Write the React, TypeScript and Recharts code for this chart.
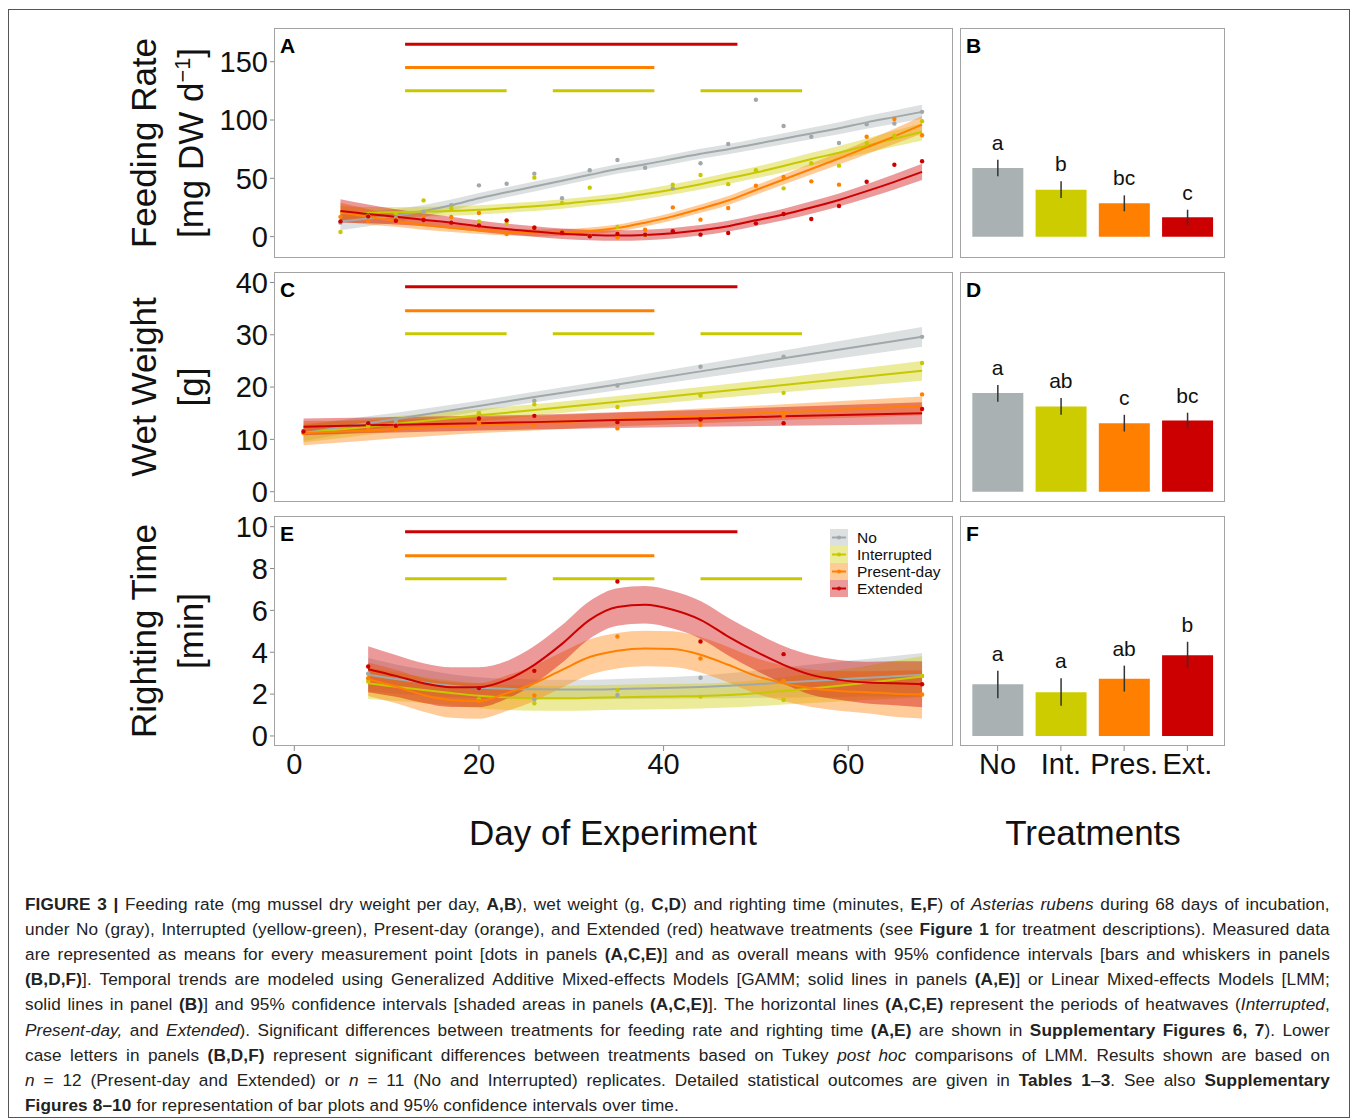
import React from 'react';
import {
  ComposedChart, Line, Area, Scatter, Bar, Cell, ErrorBar, LabelList,
  XAxis, YAxis, ReferenceLine,
} from 'recharts';

const FONT = '"Liberation Sans", Arial, Helvetica, sans-serif';

const treatments = ['No', 'Interrupted', 'Present-day', 'Extended'];
const treatmentShort = ['No', 'Int.', 'Pres.', 'Ext.'];
const keys = ['no', 'int', 'pres', 'ext'];
const lineColors = ['#a0a8aa', '#c8c800', '#ff8000', '#cc0000'];
const bandColors = ['#a9b1b3', '#cccc00', '#ff8000', '#cc0000'];
const barColors = ['#aab1b3', '#cccc00', '#ff8000', '#cc0000'];

// heatwave periods in days (Extended, Present-day, Interrupted)
const heatExtended = [[12, 48]];
const heatPresent = [[12, 39]];
const heatInterrupted = [[12, 23], [28, 39], [44, 55]];

const dayTicks = [0, 20, 40, 60];
const dayDomain = [-2.2, 71.35];

// ---- A: feeding rate ----
const feedDays = [5, 8, 11, 14, 17, 20, 23, 26, 29, 32, 35, 38, 41, 44, 47, 50, 53, 56, 59, 62, 65, 68];
const feedNoFit = [13, 15.5, 18, 22, 27, 33, 38, 43, 48, 53, 58, 62, 66.5, 71, 75, 79.5, 84, 88.5, 93, 98, 102.5, 107];
const feedNoLo = [5.5, 9, 12.2, 16.8, 22.2, 28.5, 33.7, 38.8, 43.9, 48.9, 53.9, 57.9, 62.3, 66.7, 70.6, 75, 79.3, 83.6, 87.9, 92.6, 96.8, 101];
const feedNoHi = [20.5, 22, 23.8, 27.2, 31.8, 37.5, 42.3, 47.2, 52.1, 57.1, 62.1, 66.1, 70.7, 75.3, 79.4, 84, 88.7, 93.4, 98.1, 103.4, 108.2, 113];
const feedIntFit = [20.3, 20.5, 21, 21.5, 22, 23, 24.5, 26, 28, 30.5, 33, 36.5, 40.5, 45, 50, 55, 60.5, 66.5, 72, 78, 84, 90];
const feedIntLo = [14.3, 15.5, 16.5, 17.3, 18, 19, 20.5, 22, 24, 26.5, 29, 32.3, 36.1, 40.4, 45.2, 50, 55.3, 61, 66.2, 71.8, 77.2, 82.5];
const feedIntHi = [26.3, 25.5, 25.5, 25.7, 26, 27, 28.5, 30, 32, 34.5, 37, 40.7, 44.9, 49.6, 54.8, 60, 65.7, 72, 77.8, 84.2, 90.8, 97.5];
const feedPresFit = [21, 17, 13.5, 10, 7.5, 5.5, 4, 3.2, 3.5, 4.8, 7.4, 12, 17.4, 24, 31, 40, 49, 58, 67, 76.5, 86, 96];
const feedPresLo = [13, 10.5, 8.5, 6, 4, 2.3, 1, 0.2, 0.5, 1.8, 4.4, 8.8, 14, 20.4, 27.2, 36, 44.7, 53.3, 61.8, 70.7, 79.4, 88.5];
const feedPresHi = [29, 23.5, 18.5, 14, 11, 8.7, 7, 6.2, 6.5, 7.8, 10.4, 15.2, 20.8, 27.6, 34.8, 44, 53.3, 62.7, 72.2, 82.3, 92.6, 103.5];
const feedExtFit = [22, 19.5, 17, 14.5, 12, 9, 6.5, 4.5, 2.5, 1.5, 1, 1.5, 3, 5.5, 9, 14, 19, 25, 31.5, 39, 47, 55.5];
const feedExtLo = [12, 11.5, 10.5, 9, 7, 4.2, 1.9, 0, -2, -3, -3.5, -3, -1.5, 1, 4.4, 9.2, 14, 19.7, 25.9, 33, 40.5, 48.5];
const feedExtHi = [32, 27.5, 23.5, 20, 17, 13.8, 11.1, 9, 7, 6, 5.5, 6, 7.5, 10, 13.6, 18.8, 24, 30.3, 37.1, 45, 53.5, 62.5];
const feedNoDots = [12, 17, 16, 21.4, 27, 44, 45.4, 54, 32.9, 56.9, 65.7, 59.1, 41.4, 62.9, 79.4, 117.4, 94.9, 85.7, 80.3, 96.3, 97, 107];
const feedIntDots = [4, 18, 20, 31.1, 24.3, 13.1, 11.7, 50.6, 28.9, 42, 8.3, 1, 44.6, 52.9, 45, 56.9, 41.4, 62.9, 60.9, 80.3, 86.6, 98.9];
const feedPresDots = [17, 13.7, 15, 17.1, 16.9, 20.3, 2.3, 8, 4, 1, -0.5, 6, 25.1, 14.6, 24.6, 43.7, 51.1, 47.4, 44.6, 85.7, 100.9, 86.9];
const feedExtDots = [13.1, 17.4, 13.7, 14.3, 12, 9.7, 14, 7.7, 3.4, 0.3, 2.3, 1.7, 4.6, 1.7, 3.1, 11.4, 19.4, 15.1, 26.3, 47.1, 61.7, 64.6];
const feedTicks = [0, 50, 100, 150];
const feedDomain = [-18.3, 178.9];
const feedHeatY = [165, 145, 125];

// ---- C: wet weight ----
const wetDays = [1, 8, 11, 20, 26, 35, 44, 53, 68];
const wetNoFit = [11.2, 13.1, 13.9, 16.4, 18.1, 20.5, 23.0, 25.5, 29.6];
const wetNoLo = [9.7, 11.8, 12.7, 15.4, 17.1, 19.4, 21.7, 24.0, 27.7];
const wetNoHi = [12.7, 14.4, 15.1, 17.4, 19.1, 21.6, 24.3, 27.0, 31.5];
const wetIntFit = [11.2, 12.4, 13.0, 14.6, 15.6, 17.2, 18.8, 20.4, 23.1];
const wetIntLo = [9.4, 10.9, 11.6, 13.4, 14.5, 16.1, 17.6, 19.0, 21.2];
const wetIntHi = [13.0, 13.9, 14.4, 15.8, 16.7, 18.3, 20.0, 21.8, 25.0];
const wetPresFit = [11.2, 11.7, 12.0, 12.7, 13.1, 13.8, 14.5, 15.2, 16.4];
const wetPresLo = [8.9, 9.8, 10.2, 11.2, 11.7, 12.5, 13.1, 13.7, 14.6];
const wetPresHi = [13.5, 13.6, 13.8, 14.2, 14.5, 15.1, 15.9, 16.7, 18.2];
const wetExtFit = [12.4, 12.7, 12.8, 13.1, 13.3, 13.7, 14.0, 14.4, 15.0];
const wetExtLo = [10.8, 11.2, 11.3, 11.7, 11.9, 12.2, 12.4, 12.6, 12.9];
const wetExtHi = [14.0, 14.2, 14.3, 14.5, 14.7, 15.2, 15.6, 16.2, 17.1];
const wetNoDots = [11.6, 13.2, 13.5, 15.0, 17.4, 20.3, 23.9, 25.8, 29.6];
const wetIntDots = [11.3, 12.6, 12.8, 15.0, 16.7, 16.2, 18.4, 18.9, 24.6];
const wetPresDots = [11.2, 11.8, 11.9, 13.1, 12.6, 12.1, 12.8, 14.5, 18.6];
const wetExtDots = [11.5, 13.1, 12.6, 14.0, 14.5, 13.3, 13.8, 13.1, 15.8];
const wetTicks = [0, 10, 20, 30, 40];
const wetDomain = [-1.97, 42.0];
const wetHeatY = [39.2, 34.6, 30.2];

// ---- E: righting time ----
const rightDays = [8, 11, 14, 17, 20, 23, 26, 29, 32, 35, 38, 41, 44, 47, 50, 53, 56, 59, 62, 65, 68];
const rightNoFit = [2.92, 2.72, 2.55, 2.4, 2.3, 2.25, 2.23, 2.22, 2.22, 2.24, 2.27, 2.3, 2.34, 2.4, 2.47, 2.55, 2.63, 2.7, 2.78, 2.85, 2.92];
const rightNoLo = [2.12, 2.02, 1.93, 1.85, 1.8, 1.77, 1.76, 1.75, 1.75, 1.76, 1.77, 1.78, 1.79, 1.8, 1.82, 1.83, 1.85, 1.85, 1.88, 1.88, 1.88];
const rightNoHi = [3.72, 3.42, 3.17, 2.95, 2.8, 2.73, 2.7, 2.69, 2.69, 2.72, 2.77, 2.82, 2.89, 3.0, 3.12, 3.27, 3.41, 3.55, 3.68, 3.82, 3.96];
const rightIntFit = [2.52, 2.35, 2.2, 2.05, 1.92, 1.84, 1.8, 1.8, 1.82, 1.85, 1.87, 1.89, 1.91, 1.96, 2.04, 2.15, 2.27, 2.4, 2.54, 2.69, 2.84];
const rightIntLo = [1.77, 1.67, 1.58, 1.45, 1.32, 1.24, 1.2, 1.2, 1.22, 1.25, 1.27, 1.29, 1.31, 1.36, 1.42, 1.5, 1.57, 1.65, 1.72, 1.79, 1.86];
const rightIntHi = [3.27, 3.03, 2.82, 2.65, 2.52, 2.44, 2.4, 2.4, 2.42, 2.45, 2.47, 2.49, 2.51, 2.56, 2.66, 2.8, 2.97, 3.15, 3.36, 3.59, 3.82];
const rightPresFit = [2.71, 2.36, 1.96, 1.72, 1.67, 2.04, 2.52, 3.16, 3.77, 4.07, 4.18, 4.15, 3.88, 3.4, 2.87, 2.52, 2.28, 2.15, 2.09, 2.02, 1.98];
const rightPresLo = [1.91, 1.56, 1.16, 0.87, 0.82, 1.19, 1.67, 2.31, 2.92, 3.22, 3.33, 3.3, 3.03, 2.55, 2.02, 1.67, 1.38, 1.2, 1.09, 0.92, 0.83];
const rightPresHi = [3.51, 3.16, 2.76, 2.57, 2.52, 2.89, 3.37, 4.01, 4.62, 4.92, 5.03, 5.0, 4.73, 4.25, 3.72, 3.37, 3.18, 3.1, 3.09, 3.12, 3.13];
const rightExtFit = [3.19, 2.87, 2.52, 2.33, 2.33, 2.68, 3.4, 4.4, 5.55, 6.16, 6.27, 6.03, 5.55, 4.75, 4.03, 3.4, 2.92, 2.68, 2.55, 2.52, 2.47];
const rightExtLo = [2.09, 1.87, 1.57, 1.38, 1.38, 1.78, 2.5, 3.5, 4.65, 5.26, 5.37, 5.13, 4.65, 3.85, 3.13, 2.5, 1.97, 1.73, 1.55, 1.47, 1.37];
const rightExtHi = [4.29, 3.87, 3.47, 3.28, 3.28, 3.58, 4.3, 5.3, 6.45, 7.06, 7.17, 6.93, 6.45, 5.65, 4.93, 4.3, 3.87, 3.63, 3.55, 3.57, 3.57];
const rightDotDays = [8, 20, 26, 35, 44, 53, 68];
const rightNoDots = [2.97, 2.25, 1.75, 1.96, 2.78, 2.63, 2.87];
const rightIntDots = [2.6, 1.75, 1.56, 2.2, 1.88, 1.72, 2.87];
const rightPresDots = [2.76, 1.67, 1.93, 4.75, 3.7, 2.63, 1.98];
const rightExtDots = [3.32, 2.28, 3.11, 7.38, 4.51, 3.91, 2.47];
const rightTicks = [0, 2, 4, 6, 8, 10];
const rightDomain = [-0.48, 10.51];
const rightHeatY = [9.76, 8.61, 7.51];

// ---- B, D, F: overall means with 95% CI ----
const feedMeans = [58.9, 40.3, 28.6, 16.6];
const feedLower = [51.7, 33.2, 21.7, 9.7];
const feedUpper = [66, 47.4, 35.4, 23.1];
const feedLetters = ['a', 'b', 'bc', 'c'];
const wetMeans = [18.85, 16.3, 13.1, 13.6];
const wetLower = [17.2, 14.7, 11.5, 12.1];
const wetUpper = [20.4, 17.9, 14.7, 15.1];
const wetLetters = ['a', 'ab', 'c', 'bc'];
const rightMeans = [2.47, 2.09, 2.73, 3.86];
const rightLower = [1.8, 1.44, 2.12, 3.24];
const rightUpper = [3.11, 2.76, 3.36, 4.5];
const rightLetters = ['a', 'a', 'ab', 'b'];

const captionLines: [string, string][][] = [
  [['b', 'FIGURE 3 | '], ['', 'Feeding rate (mg mussel dry weight per day, '], ['b', 'A,B'], ['', '), wet weight (g, '], ['b', 'C,D'], ['', ') and righting time (minutes, '], ['b', 'E,F'], ['', ') of '], ['i', 'Asterias rubens'], ['', ' during 68 days of incubation,']],
  [['', 'under No (gray), Interrupted (yellow-green), Present-day (orange), and Extended (red) heatwave treatments (see '], ['b', 'Figure 1'], ['', ' for treatment descriptions). Measured data']],
  [['', 'are represented as means for every measurement point [dots in panels '], ['b', '(A,C,E)'], ['', '] and as overall means with 95% confidence intervals [bars and whiskers in panels']],
  [['b', '(B,D,F)'], ['', ']. Temporal trends are modeled using Generalized Additive Mixed-effects Models [GAMM; solid lines in panels '], ['b', '(A,E)'], ['', '] or Linear Mixed-effects Models [LMM;']],
  [['', 'solid lines in panel '], ['b', '(B)'], ['', '] and 95% confidence intervals [shaded areas in panels '], ['b', '(A,C,E)'], ['', ']. The horizontal lines '], ['b', '(A,C,E)'], ['', ' represent the periods of heatwaves ('], ['i', 'Interrupted'], ['', ',']],
  [['i', 'Present-day,'], ['', ' and '], ['i', 'Extended'], ['', '). Significant differences between treatments for feeding rate and righting time '], ['b', '(A,E)'], ['', ' are shown in '], ['b', 'Supplementary Figures 6, 7'], ['', '). Lower']],
  [['', 'case letters in panels '], ['b', '(B,D,F)'], ['', ' represent significant differences between treatments based on Tukey '], ['i', 'post hoc'], ['', ' comparisons of LMM. Results shown are based on']],
  [['i', 'n'], ['', ' = 12 (Present-day and Extended) or '], ['i', 'n'], ['', ' = 11 (No and Interrupted) replicates. Detailed statistical outcomes are given in '], ['b', 'Tables 1'], ['', '–'], ['b', '3'], ['', '. See also '], ['b', 'Supplementary']],
  [['b', 'Figures 8–10'], ['', ' for representation of bar plots and 95% confidence intervals over time.']],
];

function buildRows(days: number[], fits: number[][], los: number[][], his: number[][]) {
  return days.map((day, i) => {
    const row: any = { day };
    keys.forEach((k, s) => {
      row[k] = fits[s][i];
      row[k + 'Band'] = [los[s][i], his[s][i]];
    });
    return row;
  });
}

function buildDots(days: number[], vals: number[]) {
  return days.map((day, i) => ({ day, v: vals[i] }));
}

function buildBars(means: number[], lower: number[], upper: number[], letters: string[]) {
  return means.map((m, i) => ({
    label: treatmentShort[i],
    mean: m,
    err: [m - lower[i], upper[i] - m],
    hi: upper[i],
    letter: letters[i],
  }));
}

// split a caption line into words (each word may mix bold / italic pieces)
function toWords(line: [string, string][]) {
  const words: [string, string][][] = [[]];
  line.forEach(([s, t]) => {
    t.split(' ').forEach((p, k) => {
      if (k > 0) words.push([]);
      if (p) words[words.length - 1].push([s, p]);
    });
  });
  return words.filter((w) => w.length > 0);
}

const feedRows = buildRows(feedDays,
  [feedNoFit, feedIntFit, feedPresFit, feedExtFit],
  [feedNoLo, feedIntLo, feedPresLo, feedExtLo],
  [feedNoHi, feedIntHi, feedPresHi, feedExtHi]);
const wetRows = buildRows(wetDays,
  [wetNoFit, wetIntFit, wetPresFit, wetExtFit],
  [wetNoLo, wetIntLo, wetPresLo, wetExtLo],
  [wetNoHi, wetIntHi, wetPresHi, wetExtHi]);
const rightRows = buildRows(rightDays,
  [rightNoFit, rightIntFit, rightPresFit, rightExtFit],
  [rightNoLo, rightIntLo, rightPresLo, rightExtLo],
  [rightNoHi, rightIntHi, rightPresHi, rightExtHi]);

const feedDots = [feedNoDots, feedIntDots, feedPresDots, feedExtDots].map((v) => buildDots(feedDays, v));
const wetDots = [wetNoDots, wetIntDots, wetPresDots, wetExtDots].map((v) => buildDots(wetDays, v));
const rightDots = [rightNoDots, rightIntDots, rightPresDots, rightExtDots].map((v) => buildDots(rightDotDays, v));

const PANEL_LEFT = 274;
const PANEL_W = 679;
const BAR_LEFT = 960;
const BAR_W = 265;
const PANEL_H = 230;
const AXIS_W = 80;
const PAD = 16; // room above/below each plot so edge tick labels are not clipped
const tickStyle = { fontSize: 29, fill: '#111' };

function Frame({ left, top, width, height }: any) {
  return (
    <div style={{
      position: 'absolute', left, top, width, height, boxSizing: 'border-box',
      border: '1px solid #a3a3a3', pointerEvents: 'none',
    }} />
  );
}

function PanelLetter({ left, top, text }: any) {
  return (
    <div style={{ position: 'absolute', left, top, fontSize: 21, fontWeight: 'bold', lineHeight: '21px', color: '#000' }}>
      {text}
    </div>
  );
}

function LinePanel({ top, rows, dots, domain, ticks, heatY, curve, showX, letter }: any) {
  const height = PANEL_H + 2 * PAD + (showX ? 40 : 0);
  const heat = [
    { periods: heatExtended, color: lineColors[3], y: heatY[0] },
    { periods: heatPresent, color: lineColors[2], y: heatY[1] },
    { periods: heatInterrupted, color: lineColors[1], y: heatY[2] },
  ];
  return (
    <>
      <div style={{ position: 'absolute', left: PANEL_LEFT - AXIS_W, top: top - PAD }}>
        <ComposedChart width={AXIS_W + PANEL_W} height={height} data={rows}
          margin={{ top: PAD, right: 0, bottom: PAD, left: 0 }}>
          <XAxis dataKey="day" type="number" domain={dayDomain} allowDataOverflow hide={!showX}
            ticks={dayTicks} interval={0} height={40} tickSize={5} axisLine={false}
            tickLine={{ stroke: '#8a8a8a' }} tick={tickStyle} />
          <YAxis type="number" domain={domain} allowDataOverflow ticks={ticks} interval={0}
            width={AXIS_W} axisLine={false} tickSize={4} tickLine={{ stroke: '#8a8a8a' }} tick={tickStyle} />
          {keys.map((k, s) => (
            <Area key={k + 'band'} dataKey={k + 'Band'} type={curve} stroke="none"
              fill={bandColors[s]} fillOpacity={0.4} isAnimationActive={false} />
          ))}
          {keys.map((k, s) => (
            <Line key={k + 'fit'} dataKey={k} type={curve} stroke={lineColors[s]} strokeWidth={2}
              dot={false} activeDot={false} isAnimationActive={false} />
          ))}
          {keys.map((k, s) => (
            <Scatter key={k + 'dots'} data={dots[s]} dataKey="v" fill={lineColors[s]} isAnimationActive={false}
              shape={(p: any) => <circle cx={p.cx} cy={p.cy} r={2.2} fill={lineColors[s]} />} />
          ))}
          {heat.map((h, hi) => h.periods.map((p, pi) => (
            <ReferenceLine key={hi + '-' + pi} segment={[{ x: p[0], y: h.y }, { x: p[1], y: h.y }]}
              stroke={h.color} strokeWidth={3} />
          )))}
        </ComposedChart>
      </div>
      <Frame left={PANEL_LEFT} top={top} width={PANEL_W} height={PANEL_H} />
      <PanelLetter left={280} top={top + 7} text={letter} />
    </>
  );
}

function BarPanel({ top, rows, domain, showX, letter }: any) {
  const height = PANEL_H + 2 * PAD + (showX ? 40 : 0);
  return (
    <>
      <div style={{ position: 'absolute', left: BAR_LEFT, top: top - PAD }}>
        <ComposedChart width={BAR_W} height={height} data={rows} barCategoryGap="10%"
          margin={{ top: PAD, right: 0, bottom: PAD, left: 0 }}>
          <XAxis dataKey="label" type="category" hide={!showX} padding={{ left: 6, right: 6 }}
            interval={0} height={40} tickSize={5} axisLine={false}
            tickLine={{ stroke: '#8a8a8a' }} tick={tickStyle} />
          <YAxis hide type="number" domain={domain} allowDataOverflow />
          <Bar dataKey="mean" isAnimationActive={false}>
            {rows.map((r: any, i: number) => <Cell key={r.label} fill={barColors[i]} />)}
            <ErrorBar dataKey="err" width={0} stroke="#333" strokeWidth={1.5} />
          </Bar>
          <Line dataKey="hi" stroke="none" dot={false} activeDot={false} isAnimationActive={false}>
            <LabelList dataKey="letter" position="top" offset={10} fill="#111" fontSize={21} />
          </Line>
        </ComposedChart>
      </div>
      <Frame left={BAR_LEFT} top={top} width={BAR_W} height={PANEL_H} />
      <PanelLetter left={966} top={top + 7} text={letter} />
    </>
  );
}

function AxisTitle({ cy, children }: any) {
  const w = 320;
  const h = 94;
  const cx = 166.5;
  return (
    <div style={{
      position: 'absolute', left: cx - w / 2, top: cy - h / 2, width: w, height: h,
      transform: 'rotate(-90deg)', textAlign: 'center', fontSize: 35, lineHeight: '47px', color: '#111',
    }}>
      {children}
    </div>
  );
}

function Legend() {
  return (
    <div style={{ position: 'absolute', left: 830, top: 529 }}>
      {treatments.map((t, i) => (
        <div key={t} style={{ position: 'relative', height: 17, display: 'flex', alignItems: 'center' }}>
          <svg width={18} height={17} style={{ display: 'block' }}>
            <rect x={0} y={0} width={18} height={17} fill={bandColors[i]} fillOpacity={0.4} />
            <line x1={2} x2={16} y1={8.5} y2={8.5} stroke={lineColors[i]} strokeWidth={2} />
            <circle cx={9} cy={8.5} r={2} fill={lineColors[i]} />
          </svg>
          <span style={{ marginLeft: 9, fontSize: 15.5, lineHeight: '17px', color: '#111' }}>{t}</span>
        </div>
      ))}
    </div>
  );
}

function Caption() {
  return (
    <>
      {captionLines.map((line, i) => {
        const last = i === captionLines.length - 1;
        return (
          <div key={i} style={{
            position: 'absolute', left: 25, top: 892 + i * 25.1, width: 1305, height: 25,
            display: 'flex', justifyContent: last ? 'flex-start' : 'space-between',
            columnGap: last ? 5 : 0, whiteSpace: 'nowrap',
            fontSize: 17.2, letterSpacing: 0.1, lineHeight: '25px', color: '#222',
          }}>
            {toWords(line).map((w, j) => (
              <span key={j}>
                {w.map(([s, t], k) => (
                  <span key={k} style={{ fontWeight: s === 'b' ? 'bold' : 'normal', fontStyle: s === 'i' ? 'italic' : 'normal' }}>{t}</span>
                ))}
              </span>
            ))}
          </div>
        );
      })}
    </>
  );
}

export default function App() {
  return (
    <div style={{ position: 'absolute', left: 0, top: 0, width: 1358, height: 1120, background: '#fff', fontFamily: FONT, overflow: 'hidden' }}>
      <div style={{ position: 'absolute', left: 8, top: 9, width: 1342, height: 1109, boxSizing: 'border-box', border: '1px solid #555' }} />

      <AxisTitle cy={143}>Feeding Rate<br />[mg DW d<sup style={{ fontSize: '0.62em', lineHeight: 0 }}>−1</sup>]</AxisTitle>
      <AxisTitle cy={387}>Wet Weight<br />[g]</AxisTitle>
      <AxisTitle cy={631}>Righting Time<br />[min]</AxisTitle>

      <LinePanel top={28} rows={feedRows} dots={feedDots} domain={feedDomain} ticks={feedTicks}
        heatY={feedHeatY} curve="monotone" showX={false} letter="A" />
      <LinePanel top={272} rows={wetRows} dots={wetDots} domain={wetDomain} ticks={wetTicks}
        heatY={wetHeatY} curve="linear" showX={false} letter="C" />
      <LinePanel top={516} rows={rightRows} dots={rightDots} domain={rightDomain} ticks={rightTicks}
        heatY={rightHeatY} curve="monotone" showX letter="E" />

      <BarPanel top={28} rows={buildBars(feedMeans, feedLower, feedUpper, feedLetters)} domain={feedDomain} showX={false} letter="B" />
      <BarPanel top={272} rows={buildBars(wetMeans, wetLower, wetUpper, wetLetters)} domain={wetDomain} showX={false} letter="D" />
      <BarPanel top={516} rows={buildBars(rightMeans, rightLower, rightUpper, rightLetters)} domain={rightDomain} showX letter="F" />

      <Legend />

      <div style={{ position: 'absolute', left: 413, top: 812, width: 400, textAlign: 'center', fontSize: 35, lineHeight: '42px', color: '#111' }}>Day of Experiment</div>
      <div style={{ position: 'absolute', left: 943, top: 812, width: 300, textAlign: 'center', fontSize: 35, lineHeight: '42px', color: '#111' }}>Treatments</div>

      <Caption />
    </div>
  );
}
